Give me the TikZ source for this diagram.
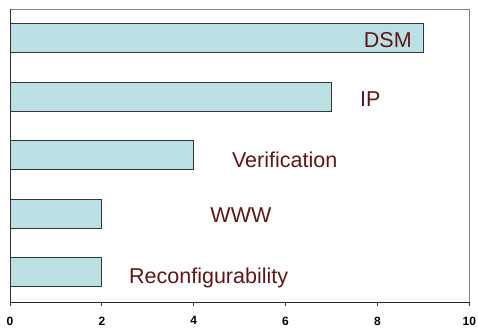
\documentclass[tikz,border=0pt]{standalone}
\usepackage{fontspec}
\setmainfont{Liberation Sans}
\definecolor{barfill}{RGB}{187,224,227}
\definecolor{barline}{RGB}{55,55,55}
\definecolor{framegray}{RGB}{130,130,130}
\definecolor{lblred}{RGB}{96,22,22}

\begin{document}
\begin{tikzpicture}[x=1pt,y=1pt,
    bar/.style={draw=barline,fill=barfill,line width=0.8pt},
    lbl/.style={text=lblred,inner sep=0pt,font=\fontsize{21.5}{25}\selectfont},
    ticklbl/.style={inner sep=0pt,anchor=north,font=\bfseries\fontsize{12}{14}\selectfont}]
  \useasboundingbox (0,0) rectangle (478,328);
  \begin{scope}[shift={(10,26)},x=45.93pt,y=58.6pt]
    % plot area frame
    \draw[framegray,line width=0.8pt] (0,5) -- (10,5) -- (10,0);
    % bars, bottom to top
    \foreach \v [count=\i] in {2,2,4,7,9}
      \draw[bar] (0,\i-0.74) rectangle (\v,\i-0.245);
    % category labels
    \node[lbl,anchor=base east] (dsm) at (8.75,4.35) {DSM};
    \node[lbl,anchor=base west] (ip) at (7.62,3.33) {IP};
    \node[lbl,anchor=base west] (verif) at (4.83,2.30) {Verification};
    \node[lbl,anchor=base west] (www) at (4.36,1.365) {WWW};
    \node[lbl,anchor=base west] (reconf) at (2.59,0.324) {Reconfigurability};
    % axes
    \draw[line width=0.8pt,black!80] (0,5) -- ([yshift=-4pt]0,0);
    \draw[line width=0.9pt,black!85] (0,0) -- (10,0);
    \foreach \t in {2,4,...,10}
      \draw[line width=0.8pt,black!80] (\t,0) -- ++(0,-4pt);
    \foreach \t in {0,2,...,10}
      \node[ticklbl] (t\t) at ([yshift=-14.5pt]\t,0) {\t};
  \end{scope}
\end{tikzpicture}
\end{document}
